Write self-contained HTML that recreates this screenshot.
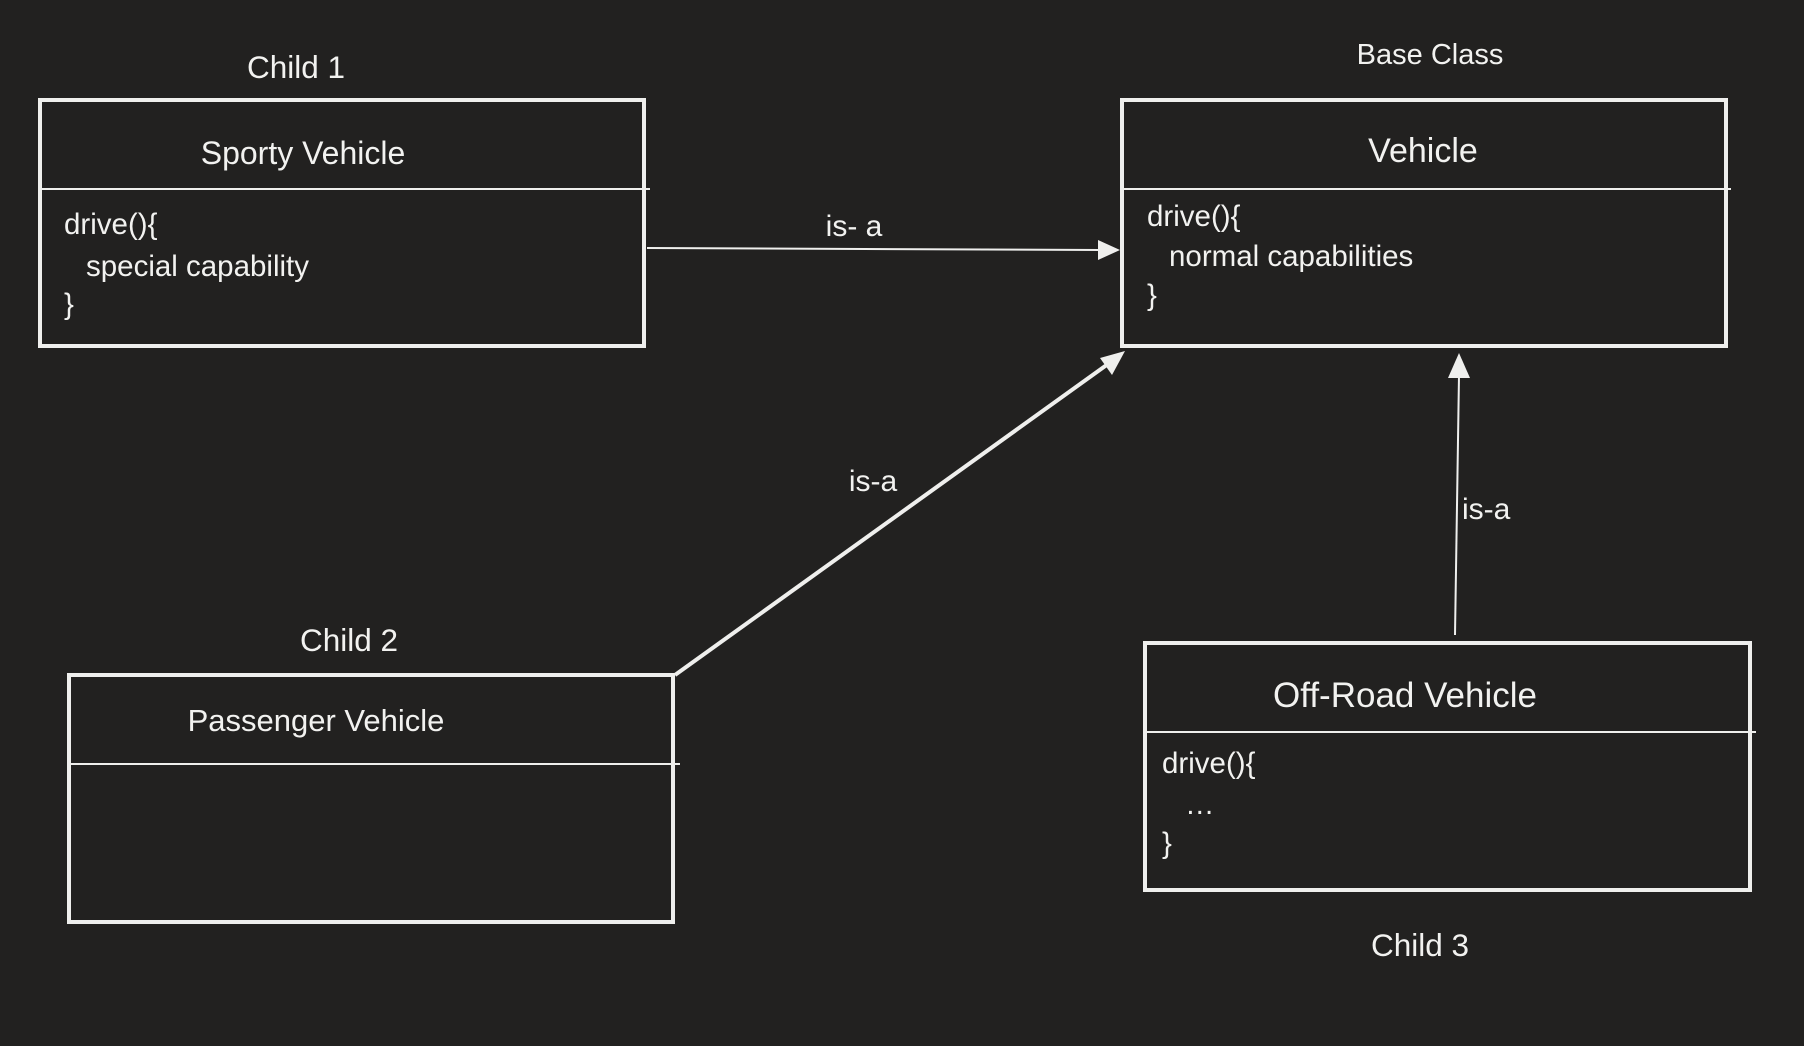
<!DOCTYPE html>
<html><head><meta charset="utf-8"><style>
html,body{margin:0;padding:0;background:#222120;}
svg{display:block}
text{font-family:"Liberation Sans",sans-serif;fill:#f2f2f0;}
</style></head><body>
<svg width="1804" height="1046" viewBox="0 0 1804 1046" xmlns="http://www.w3.org/2000/svg">
<rect width="1804" height="1046" fill="#222120"/>
<g fill="none" stroke="#efefed" stroke-width="4">
<rect x="40" y="100" width="604" height="246"/>
<rect x="1122" y="100" width="604" height="246"/>
<rect x="69" y="675" width="604" height="247"/>
<rect x="1145" y="643" width="605" height="247"/>
</g>
<g stroke="#efefed" stroke-width="2">
<line x1="40" y1="189" x2="650" y2="189"/>
<line x1="1122" y1="189" x2="1731" y2="189"/>
<line x1="69" y1="764" x2="680" y2="764"/>
<line x1="1145" y1="732" x2="1756" y2="732"/>
<line x1="647" y1="248" x2="1100" y2="250"/>
<line x1="1455" y1="635" x2="1459" y2="375"/>
</g>
<line x1="675" y1="675" x2="1108" y2="364" stroke="#efefed" stroke-width="4"/>
<g fill="#efefed">
<polygon points="1120,250 1098,240 1098,260"/>
<polygon points="1459,353 1448,378 1470,378"/>
<polygon points="1125,351 1100,358 1112,375"/>
</g>
<g font-size="31.5">
<text x="296" y="78" text-anchor="middle">Child 1</text>
<text x="349" y="651" text-anchor="middle">Child 2</text>
<text x="1420" y="956" text-anchor="middle">Child 3</text>
</g>
<text x="1430" y="64" text-anchor="middle" font-size="29">Base Class</text>
<text x="303" y="164" text-anchor="middle" font-size="32">Sporty Vehicle</text>
<text x="316" y="731" text-anchor="middle" font-size="31">Passenger Vehicle</text>
<g font-size="30">
<text x="854" y="236" text-anchor="middle">is- a</text>
<text x="873" y="491" text-anchor="middle">is-a</text>
<text x="1462" y="519">is-a</text>
</g>
<g font-size="29.5">
<text x="64" y="234">drive(){</text>
<text x="86" y="276">special capability</text>
<text x="64" y="314">}</text>
<text x="1147" y="226">drive(){</text>
<text x="1169" y="266">normal capabilities</text>
<text x="1147" y="305">}</text>
<text x="1162" y="773">drive(){</text>
<text x="1185" y="814">…</text>
<text x="1162" y="853">}</text>
</g>
<text x="1423" y="162" text-anchor="middle" font-size="34">Vehicle</text>
<text x="1405" y="707" text-anchor="middle" font-size="35">Off-Road Vehicle</text>
</svg>
</body></html>
